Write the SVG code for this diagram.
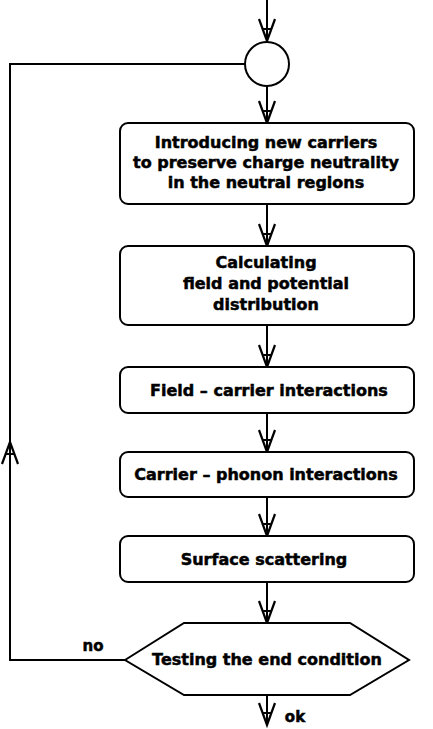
<svg xmlns="http://www.w3.org/2000/svg" width="433" height="729" viewBox="0 0 433 729">
  <style>
    .shape { fill: #fff; stroke: #000; stroke-width: 2; }
    .wire { fill: none; stroke: #000; stroke-width: 2; }
    .label { font-family: "DejaVu Sans", "Liberation Sans", sans-serif; font-weight: bold; font-size: 16px; fill: #000; stroke: #000; stroke-width: 0.5; text-anchor: middle; dominant-baseline: central; }
    .small { font-size: 15px; }
  </style>
  <defs>
    <!-- open arrowhead: two arms meeting at the tip with a short cross bar -->
    <marker id="arrow" markerUnits="userSpaceOnUse" markerWidth="30" markerHeight="24" viewBox="-26 -12 30 24" refX="0" refY="0" orient="auto" overflow="visible">
      <path d="M-22,-8 L0,0 L-22,8 M-12,-4.4 L-12,4.4" fill="none" stroke="#000" stroke-width="2.2" stroke-linejoin="miter"/>
    </marker>
  </defs>

  <g id="connectors">
    <path class="wire" d="M267,0 L267,41" marker-end="url(#arrow)"/>
    <path class="wire" d="M267,86 L267,123" marker-end="url(#arrow)"/>
    <path class="wire" d="M267,204 L267,246" marker-end="url(#arrow)"/>
    <path class="wire" d="M267,325 L267,367" marker-end="url(#arrow)"/>
    <path class="wire" d="M267,413 L267,452" marker-end="url(#arrow)"/>
    <path class="wire" d="M267,497 L267,536" marker-end="url(#arrow)"/>
    <path class="wire" d="M267,582 L267,623" marker-end="url(#arrow)"/>
    <path class="wire" d="M267,695 L267,725" marker-end="url(#arrow)"/>
    <!-- return loop from the test back to the junction -->
    <path class="wire" d="M125,660 L10,660 L10,442" marker-end="url(#arrow)"/>
    <path class="wire" d="M10,442 L10,64 L245,64"/>
  </g>

  <g id="junction">
    <circle class="shape" cx="267" cy="64" r="22"/>
  </g>

  <g id="node-introduce">
    <rect class="shape" x="120" y="123" width="294" height="81" rx="8"/>
    <text class="label" x="266" y="142">Introducing new carriers</text>
    <text class="label" x="266" y="162">to preserve charge neutrality</text>
    <text class="label" x="266" y="182">in the neutral regions</text>
  </g>

  <g id="node-field">
    <rect class="shape" x="120" y="246" width="294" height="79" rx="8"/>
    <text class="label" x="266" y="262">Calculating</text>
    <text class="label" x="266" y="283">field and potential</text>
    <text class="label" x="266" y="304">distribution</text>
  </g>

  <g id="node-field-carrier">
    <rect class="shape" x="120" y="367" width="294" height="46" rx="8"/>
    <text class="label" x="269" y="390">Field – carrier interactions</text>
  </g>

  <g id="node-carrier-phonon">
    <rect class="shape" x="120" y="452" width="294" height="45" rx="8"/>
    <text class="label" x="266" y="474">Carrier – phonon interactions</text>
  </g>

  <g id="node-surface">
    <rect class="shape" x="120" y="536" width="294" height="46" rx="8"/>
    <text class="label" x="264" y="559">Surface scattering</text>
  </g>

  <g id="node-test">
    <polygon class="shape" points="125,660 184,623 350,623 409,660 350,695 184,695"/>
    <text class="label" x="267" y="659">Testing the end condition</text>
  </g>

  <g id="edge-labels">
    <text class="label small" x="93" y="646">no</text>
    <text class="label small" x="295" y="717">ok</text>
  </g>
</svg>
